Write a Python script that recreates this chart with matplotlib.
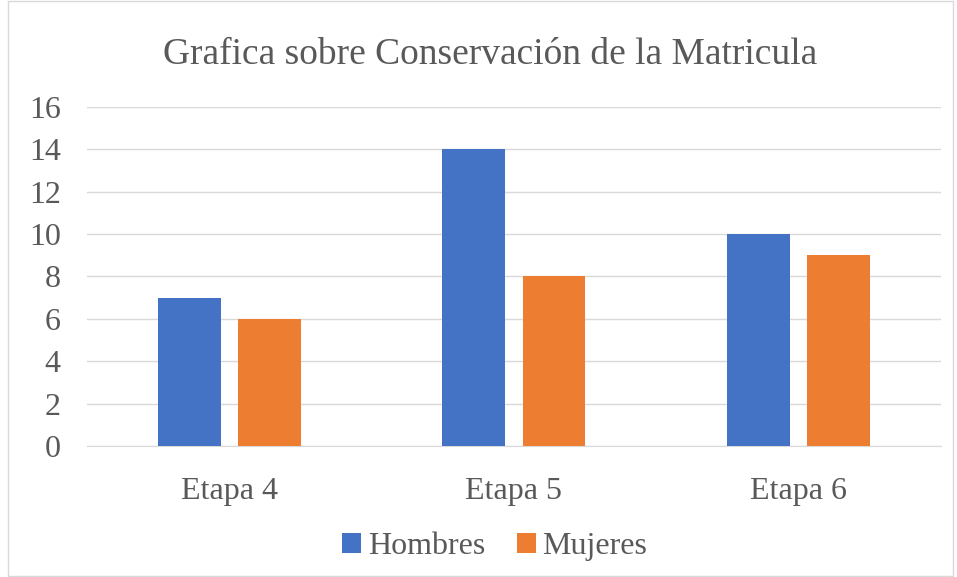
import matplotlib.pyplot as plt
from matplotlib.patches import Rectangle
import numpy as np

etapas = ["Etapa 4", "Etapa 5", "Etapa 6"]
hombres = [7, 14, 10]
mujeres = [6, 8, 9]

plt.rcParams['font.family'] = ['Liberation Serif', 'DejaVu Serif']

fig = plt.figure(figsize=(9.57, 5.77), dpi=100)
ax = fig.add_axes([0.091, 0.227, 0.892, 0.588])

x = np.arange(len(etapas))
w = 0.221
ax.bar(x - 0.141, hombres, w, color='#4472C4', label='Hombres', zorder=3)
ax.bar(x + 0.141, mujeres, w, color='#ED7D31', label='Mujeres', zorder=3)

ax.set_xlim(-0.5, 2.5)
ax.set_ylim(0, 16)
ax.set_yticks(range(0, 17, 2))
ax.set_xticks(x)
ax.set_xticklabels(etapas)
ax.tick_params(axis='both', length=0, labelsize=23, colors='#595959')
ax.tick_params(axis='x', pad=22)
ax.tick_params(axis='y', pad=19)
ax.grid(axis='y', color='#d9d9d9', linewidth=1, zorder=0)
for s in ['top', 'right', 'left']:
    ax.spines[s].set_visible(False)
ax.spines['bottom'].set_color('#d9d9d9')

fig.suptitle("Grafica sobre Conservación de la Matricula", fontsize=27,
             color='#595959', x=0.512, y=0.935)
fig.legend(loc='center', bbox_to_anchor=(0.517, 0.052), ncol=2, frameon=False,
           fontsize=23, handlelength=0.6, handleheight=0.6, columnspacing=1.0,
           handletextpad=0.2, labelcolor='#595959')

fig.patches.append(Rectangle((0.008, 0.002), 0.988, 0.996, transform=fig.transFigure,
                             fill=False, edgecolor='#d9d9d9', linewidth=1))

fig.savefig("out.png", dpi=100)
